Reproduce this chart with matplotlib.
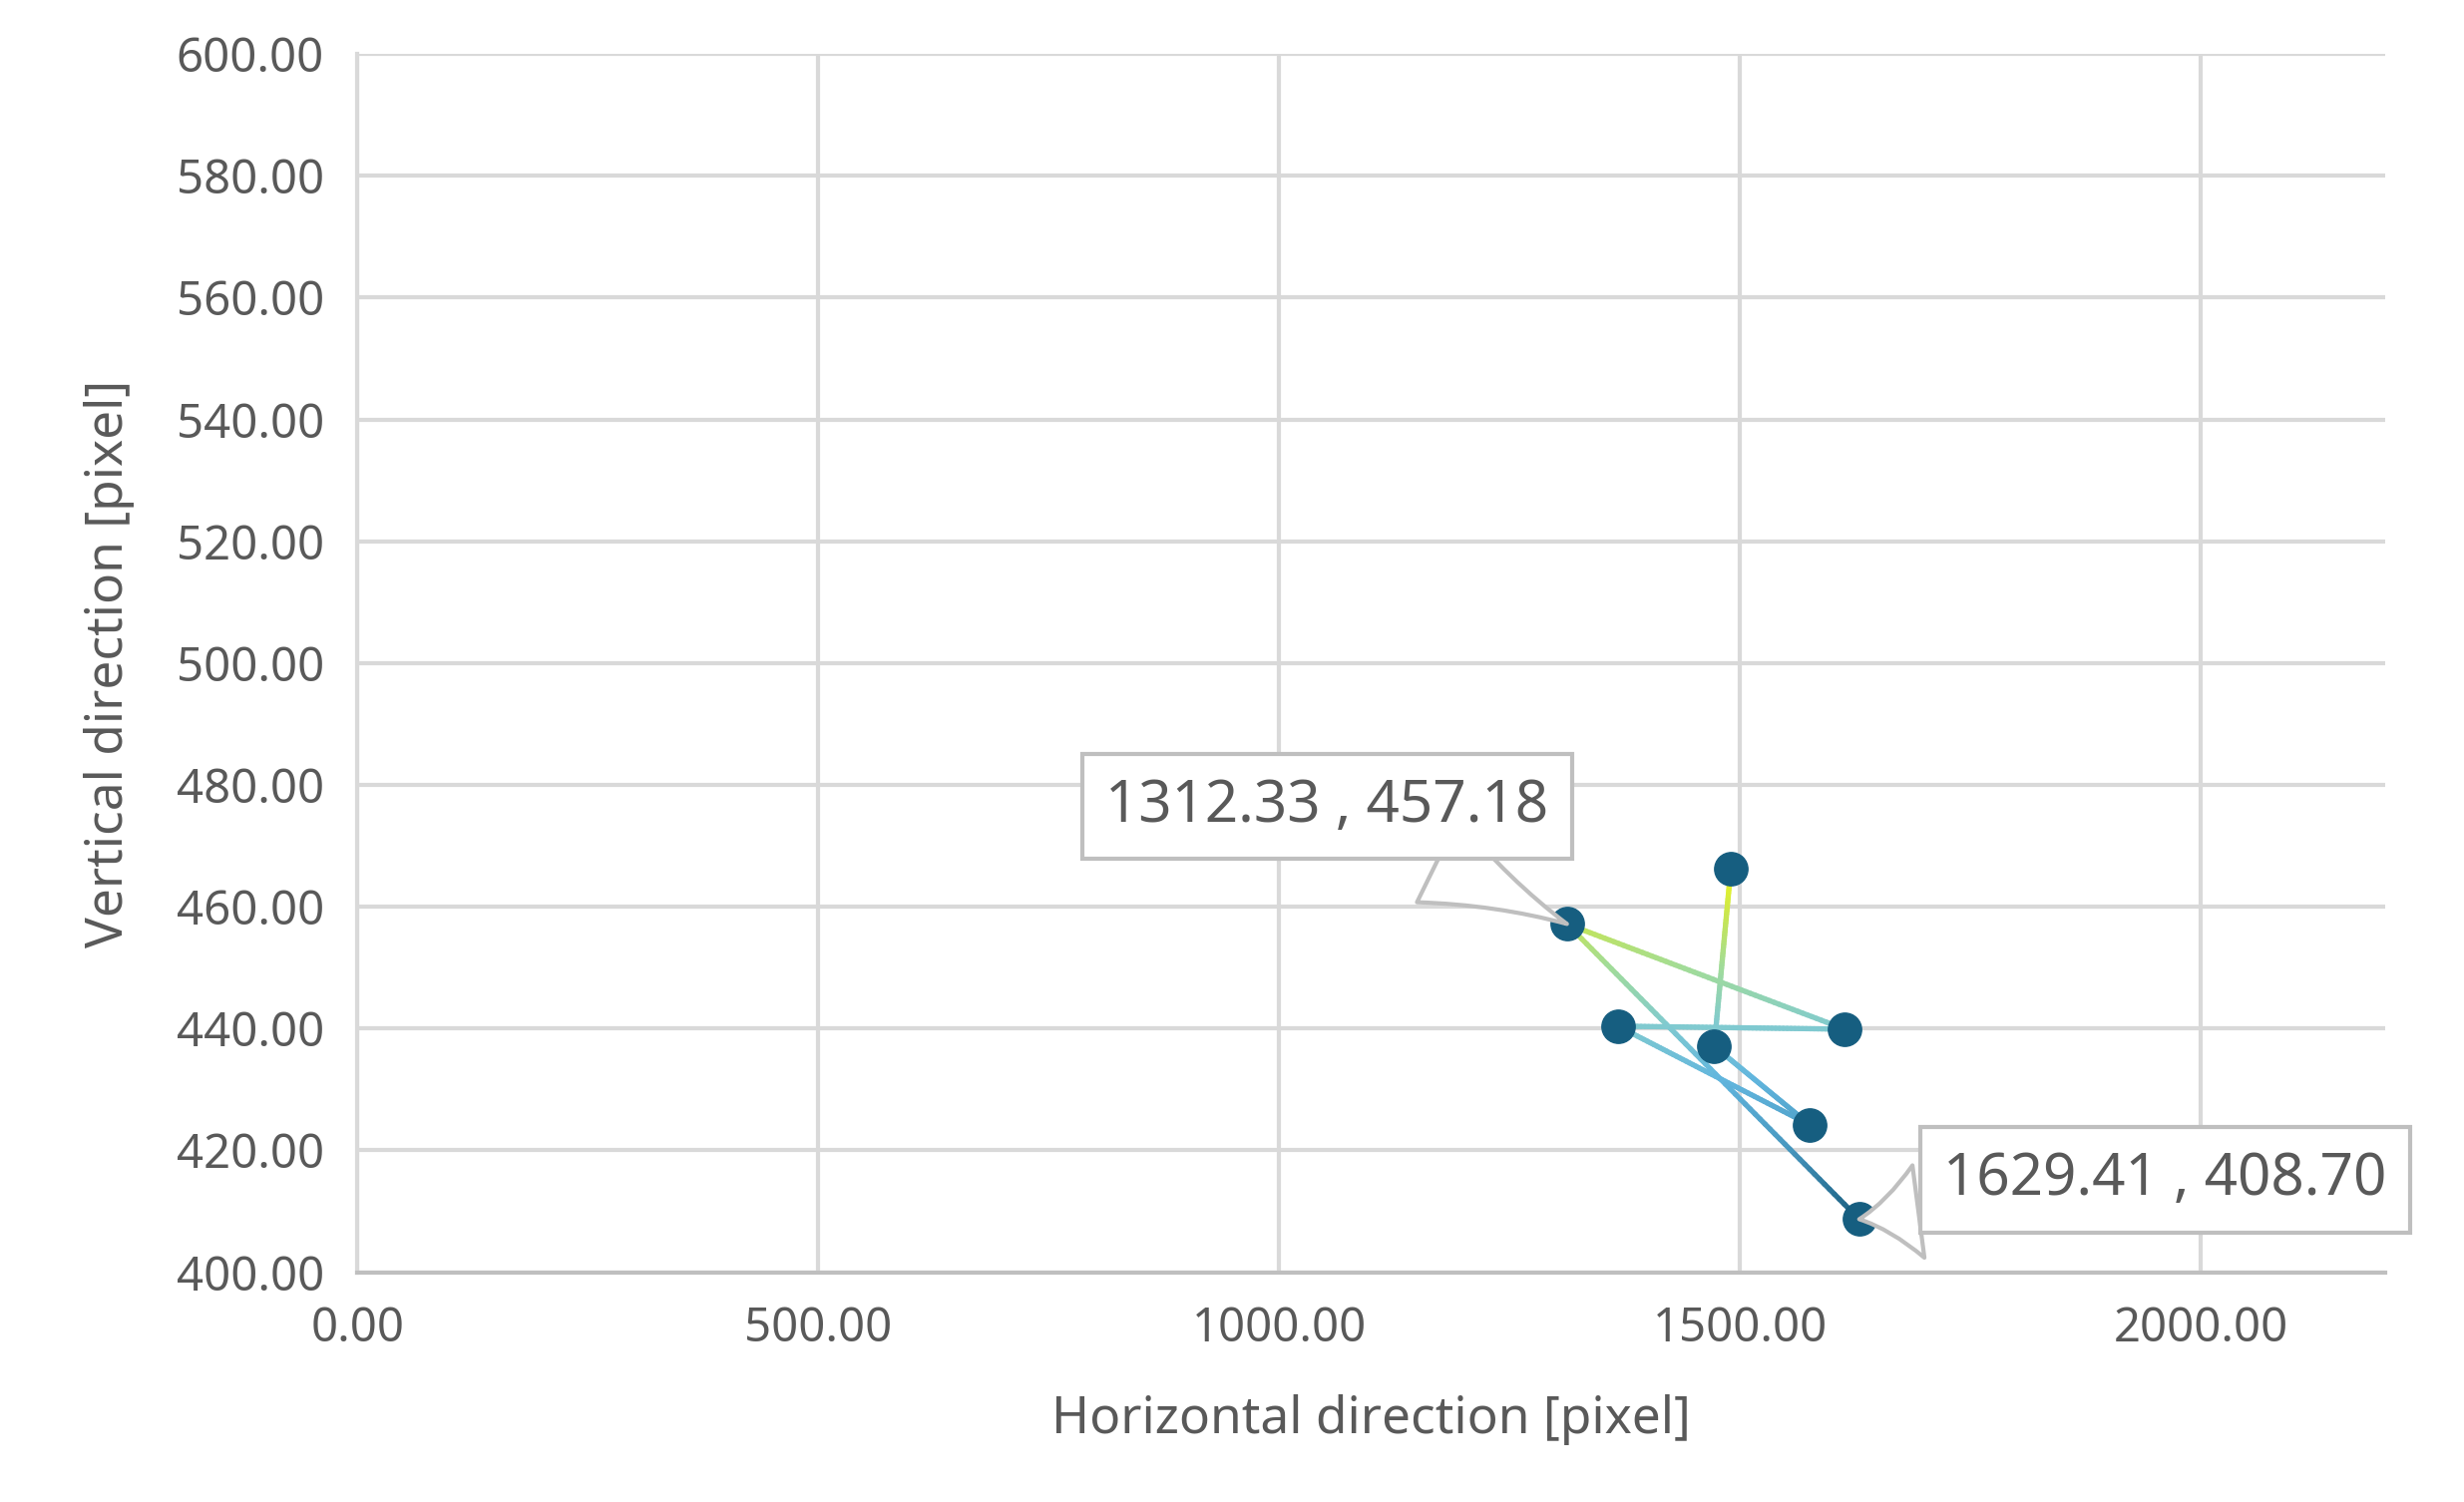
import numpy as np
import matplotlib
matplotlib.use("Agg")
import matplotlib.pyplot as plt
from matplotlib.collections import LineCollection
from matplotlib.colors import LinearSegmentedColormap

x_vals = [1490.1, 1472.1, 1575.7, 1367.7, 1613.9, 1312.33, 1629.41]
y_vals = [466.2, 437.1, 424.2, 440.4, 439.9, 457.18, 408.70]
x_ticks = [0, 500, 1000, 1500, 2000]
y_ticks = [400, 420, 440, 460, 480, 500, 520, 540, 560, 580, 600]
labels = {5: "1312.33 , 457.18", 6: "1629.41 , 408.70"}

plt.rcParams['font.family'] = ['Noto Sans', 'DejaVu Sans']
fig = plt.figure(figsize=(24.7, 15.06), dpi=100)
ax = fig.add_axes([0.145, 0.153, 0.823, 0.811])
grey = '#595959'

cmap = LinearSegmentedColormap.from_list('g', [
    (0.0, '#1a5f80'), (0.2, '#4898c0'), (0.4, '#62b6de'),
    (0.55, '#80cad0'), (0.72, '#a2dc98'), (0.86, '#c8e650'), (1.0, '#f0f81a')])
ymin, ymax = min(y_vals), max(y_vals)
segs, cols = [], []
for i in range(len(x_vals) - 1):
    xs = np.linspace(x_vals[i], x_vals[i + 1], 60)
    ys = np.linspace(y_vals[i], y_vals[i + 1], 60)
    for j in range(59):
        segs.append([(xs[j], ys[j]), (xs[j + 1], ys[j + 1])])
        cols.append(cmap(((ys[j] + ys[j + 1]) / 2 - ymin) / (ymax - ymin)))
ax.add_collection(LineCollection(segs, colors=cols, linewidths=3.8, capstyle='round', zorder=3))
ax.plot(x_vals, y_vals, 'o', color='#165e80', markersize=24, zorder=4)

ax.set_xlim(0, 2200)
ax.set_ylim(400, 600)
ax.set_xticks(x_ticks)
ax.set_yticks(y_ticks)
ax.set_xticklabels([f"{v:.2f}" for v in x_ticks])
ax.set_yticklabels([f"{v:.2f}" for v in y_ticks])
ax.grid(True, color='#d9d9d9', linewidth=3)
ax.set_axisbelow(True)
for s in ['top', 'right']:
    ax.spines[s].set_visible(False)
ax.spines['left'].set_color('#d9d9d9')
ax.spines['left'].set_linewidth(3)
ax.spines['bottom'].set_color('#bfbfbf')
ax.spines['bottom'].set_linewidth(3)
ax.tick_params(length=0, labelsize=34, labelcolor=grey, pad=24)
ax.set_xlabel("Horizontal direction [pixel]", fontsize=37, color=grey, labelpad=30)
ax.set_ylabel("Vertical direction [pixel]", fontsize=37, color=grey, labelpad=30)

pos = {5: (1052, 476.5), 6: (1961, 415.2)}
for i, t in labels.items():
    ax.annotate(t, xy=(x_vals[i], y_vals[i]), xytext=pos[i], ha='center', va='center',
                fontsize=42, color=grey, zorder=5,
                bbox=dict(boxstyle='square,pad=0.4', fc='white', ec='#bfbfbf', lw=3),
                arrowprops=dict(arrowstyle='wedge,tail_width=1.6,shrink_factor=0.4',
                                fc='white', ec='#bfbfbf', lw=3, shrinkA=0, shrinkB=0))

fig.savefig("out.png", dpi=100)
